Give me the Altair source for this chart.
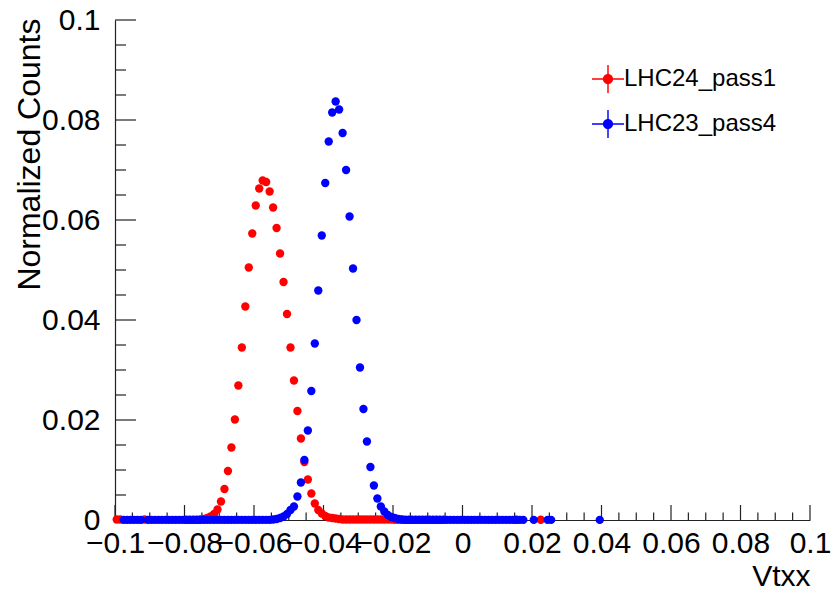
import altair as alt
import pandas as pd

# ---- data (normalized counts per bin, 0.001 wide bins starting at centre -0.0995) ----
bin_first_center = -0.0995
bin_width = 0.001
series_names = ["LHC24_pass1", "LHC23_pass4"]
series_colors = ["#ff0000", "#0000ff"]

N = None
red_counts = [
    0.0001, 0.0001, N, N, N, N, N, N, 0.0001, N,
    N, N, N, N, N, N, N, N, N, N,
    0.00005, 0.00005, 0.00005, 0.00005, 0.0001, 0.0002, 0.0004, 0.0007, 0.0012, 0.0021,
    0.0037, 0.0062, 0.0098, 0.0145, 0.0201, 0.0269, 0.0345, 0.0427, 0.0505, 0.0573,
    0.0629, 0.0663, 0.0679, 0.0676, 0.0657, 0.0625, 0.0584, 0.0533, 0.0476, 0.0412,
    0.0345, 0.0279, 0.0218, 0.0163, 0.0116, 0.0081, 0.0053, 0.0033, 0.0020, 0.0013,
    0.0008, 0.0005, 0.0004, 0.0003, 0.0002, 0.0001, 0.0001, 0.0001, 0.0001, 0.0001,
    0.0001, 0.0001, 0.0001, 0.0001, 0.0001, 0.0001, 0.0001, 0.0001, 0.0001, 0.0001,
    0.00005, 0.00005, 0.00005, 0.00005, 0.00005, 0.00005, 0.00005, 0.00005, 0.00005, 0.00005,
    0.00005, 0.00005, 0.00005, 0.00005, 0.00005, N, N, N, N, N,
    N, N, N, N, N, N, N, N, N, N,
    N, N, N, N, N, 0.00005, N, N, N, N,
    N, N, 0.00005, N, N, N, N, N, N, N,
    N, N, N, N, N, N, N, N, N, N,
]

blue_counts = [
    N, N, 0.00002, 0.00002, 0.00002, 0.00002, 0.00002, 0.00002, N, 0.00002,
    0.00002, 0.00002, 0.00002, 0.00002, 0.00002, 0.00002, 0.00002, 0.00002, 0.00002, 0.00002,
    0.00002, 0.00002, 0.00002, 0.00002, 0.00002, 0.00002, 0.00002, 0.00002, 0.00002, 0.00002,
    0.00002, 0.00002, 0.00002, 0.00002, 0.00002, 0.00002, 0.00002, 0.00002, 0.00002, 0.00002,
    0.00002, 0.00002, 0.00002, 0.00002, 0.00002, 0.0001, 0.0002, 0.0004, 0.0007, 0.0012,
    0.0020, 0.0027, 0.0047, 0.0075, 0.0120, 0.0179, 0.0258, 0.0353, 0.0459, 0.0569,
    0.0674, 0.0757, 0.0815, 0.0837, 0.0821, 0.0774, 0.0700, 0.0607, 0.0503, 0.0400,
    0.0305, 0.0222, 0.0157, 0.0106, 0.0069, 0.0043, 0.0027, 0.0017, 0.0010, 0.0006,
    0.0004, 0.0002, 0.0001, 0.00002, 0.00002, 0.00002, 0.00002, 0.00002, 0.00002, 0.00002,
    0.00002, 0.00002, 0.00002, 0.00002, 0.00002, 0.00002, 0.00002, 0.00002, 0.00002, 0.00002,
    0.00002, 0.00002, 0.00002, 0.00002, 0.00002, 0.00002, 0.00002, 0.00002, 0.00002, 0.00002,
    0.00002, 0.00002, 0.00002, 0.00002, 0.00002, 0.00002, 0.00002, 0.00002, N, N,
    0.00002, N, N, N, 0.00002, 0.00002, N, N, N, N,
    N, N, N, N, N, N, N, N, N, 0.00002,
]

x_major_ticks = [-0.1, -0.08, -0.06, -0.04, -0.02, 0, 0.02, 0.04, 0.06, 0.08, 0.1]
y_major_ticks = [0, 0.02, 0.04, 0.06, 0.08, 0.1]
minor_step = 0.005

# ---- build tables ----
rows = []
for name, counts in zip(series_names, [red_counts, blue_counts]):
    for i, c in enumerate(counts):
        if c is not None:
            rows.append({"x": round(bin_first_center + i * bin_width, 4), "y": c, "series": name})
df = pd.DataFrame(rows)

minor_x = [round(-0.1 + k * minor_step, 4) for k in range(41)]
minor_y = [round(k * minor_step, 4) for k in range(21)]
df_xmin = pd.DataFrame({"v": [v for v in minor_x if round(v / 0.02, 6) % 1 != 0]})
df_xmaj = pd.DataFrame({"v": x_major_ticks})
df_ymin = pd.DataFrame({"v": [v for v in minor_y if round(v / 0.02, 6) % 1 != 0]})
df_ymaj = pd.DataFrame({"v": y_major_ticks})

W, H = 695, 500
FONT = "Liberation Sans"
xscale = alt.Scale(domain=[-0.1, 0.1], nice=False, zero=False)
yscale = alt.Scale(domain=[0, 0.1], nice=False, zero=False)

# legend symbol: marker with error-bar cross (all sub-paths clockwise so they fill)
cross = (
    "M -1,-0.045 L 1,-0.045 L 1,0.045 L -1,0.045 Z "
    "M -0.045,-0.875 L 0.045,-0.875 L 0.045,0.875 L -0.045,0.875 Z "
    "M -0.32,0 A 0.32,0.32 0 1,1 0.32,0 A 0.32,0.32 0 1,1 -0.32,0 Z"
)

points = alt.Chart(df).mark_point(filled=True, size=70, opacity=1, strokeWidth=0).encode(
    x=alt.X(
        "x:Q",
        scale=xscale,
        axis=alt.Axis(
            values=x_major_ticks,
            format=".2~f",
            ticks=False,
            grid=False,
            domain=True,
            domainColor="#222222",
            domainWidth=1.2,
            labelFont=FONT,
            labelFontSize=30,
            labelColor="black",
            labelPadding=8,
            labelOverlap=False,
            labelFlush=False,
            labelBound=False,
            title="Vtxx",
            titleFont=FONT,
            titleFontSize=30,
            titleFontWeight="normal",
            titleColor="black",
            titleAnchor="end",
            titleAlign="right",
            titleBaseline="alphabetic",
            titleX=W,
            titleY=65,
        ),
    ),
    y=alt.Y(
        "y:Q",
        scale=yscale,
        axis=alt.Axis(
            values=y_major_ticks,
            format=".2~f",
            ticks=False,
            grid=False,
            domain=True,
            domainColor="#222222",
            domainWidth=1.2,
            labelFont=FONT,
            labelFontSize=30,
            labelColor="black",
            labelPadding=15,
            labelOverlap=False,
            labelFlush=False,
            labelBound=False,
            title="Normalized Counts",
            titleFont=FONT,
            titleFontSize=32,
            titleFontWeight="normal",
            titleColor="black",
            titleAngle=270,
            titleAlign="right",
            titleBaseline="alphabetic",
            titleX=-76,
            titleY=-2,
        ),
    ),
    color=alt.Color(
        "series:N",
        scale=alt.Scale(domain=series_names, range=series_colors),
        sort=series_names,
        legend=alt.Legend(
            title=None,
            orient="none",
            legendX=477,
            legendY=43,
            padding=0,
            symbolType=cross,
            symbolSize=1024,
            symbolStrokeWidth=0,
            symbolOpacity=1,
            labelFont=FONT,
            labelFontSize=24,
            labelColor="black",
            labelOffset=0,
            rowPadding=15,
        ),
    ),
)

tick_color = "#222222"
ytick_maj = alt.Chart(df_ymaj).mark_rule(color=tick_color, strokeWidth=1.2).encode(
    y=alt.Y("v:Q", scale=yscale), x=alt.value(0), x2=alt.value(21)
)
ytick_min = alt.Chart(df_ymin).mark_rule(color=tick_color, strokeWidth=1.2).encode(
    y=alt.Y("v:Q", scale=yscale), x=alt.value(0), x2=alt.value(11)
)
xtick_maj = alt.Chart(df_xmaj).mark_rule(color=tick_color, strokeWidth=1.2).encode(
    x=alt.X("v:Q", scale=xscale), y=alt.value(H), y2=alt.value(H - 15)
)
xtick_min = alt.Chart(df_xmin).mark_rule(color=tick_color, strokeWidth=1.2).encode(
    x=alt.X("v:Q", scale=xscale), y=alt.value(H), y2=alt.value(H - 7.5)
)

chart = (
    alt.layer(ytick_maj, ytick_min, xtick_maj, xtick_min, points)
    .properties(
        width=W,
        height=H,
        autosize=alt.AutoSizeParams(type="none"),
        padding={"left": 115, "top": 20, "right": 28, "bottom": 73},
        background="white",
    )
    .configure_view(stroke=None)
)

chart.save("out.html", embed_options={"renderer": "svg", "actions": False})
